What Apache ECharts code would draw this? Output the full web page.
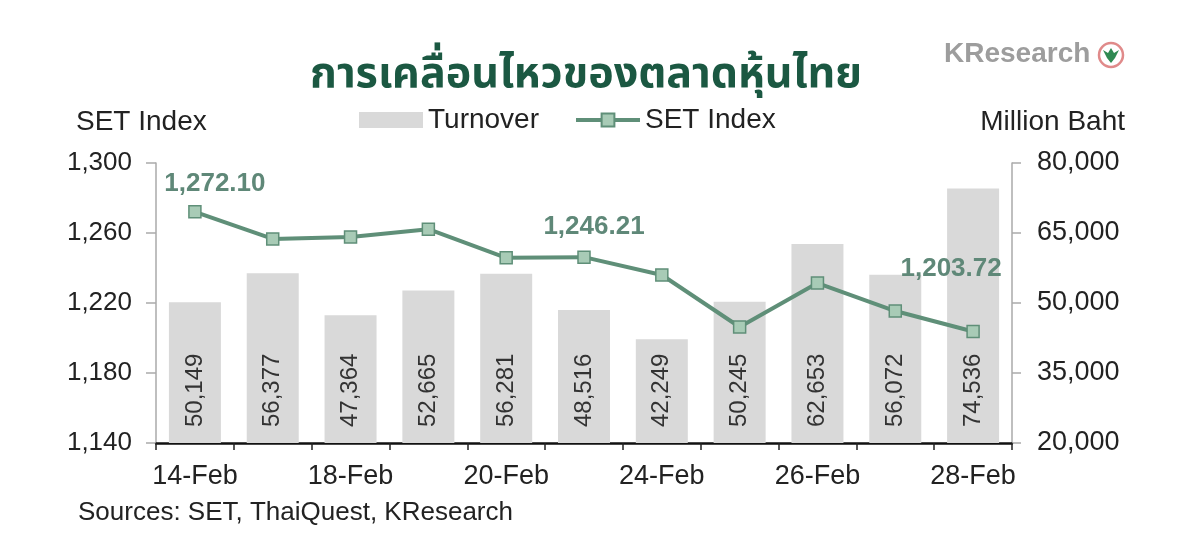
<!DOCTYPE html>
<html>
<head>
<meta charset="utf-8">
<script src="https://cdn.jsdelivr.net/npm/echarts@6/dist/echarts.min.js"></script>
<style>
html,body{margin:0;padding:0;background:#fff;}
#chart{width:1200px;height:548px;}
</style>
</head>
<body>
<div id="chart"></div>
<script>
// ---- data ----
const categories = ['14-Feb','17-Feb','18-Feb','19-Feb','20-Feb','21-Feb','24-Feb','25-Feb','26-Feb','27-Feb','28-Feb'];
const turnover = [50149, 56377, 47364, 52665, 56281, 48516, 42249, 50245, 62653, 56072, 74536];
const setIndex = [1272.10, 1256.6, 1257.7, 1262.2, 1245.8, 1246.21, 1236.0, 1206.3, 1231.4, 1215.4, 1203.72];
const labelledPoints = [0, 5, 10];
const leftTicks = [1140, 1180, 1220, 1260, 1300];
const rightTicks = [20000, 35000, 50000, 65000, 80000];
const titleText = 'การเคลื่อนไหวของตลาดหุ้นไทย';
const sourceText = 'Sources: SET, ThaiQuest, KResearch';

const FONT = '"Liberation Sans", Arial, sans-serif';
const fmt = v => Number(v).toLocaleString('en-US');
const fmt2 = v => Number(v).toLocaleString('en-US', {minimumFractionDigits: 2, maximumFractionDigits: 2});

const labelOffsets = {0: [20, -2], 5: [10, -5], 10: [-22, -37]};
const lineData = setIndex.map((v, i) => {
  if (labelledPoints.indexOf(i) >= 0) {
    return {value: v, label: {show: true, position: 'top', distance: 6, offset: labelOffsets[i],
      formatter: p => fmt2(p.value), fontFamily: FONT, fontSize: 26, fontWeight: 'bold', color: '#5f8878'}};
  }
  return v;
});

const chart = echarts.init(document.getElementById('chart'), null, {renderer: 'canvas'});
chart.setOption({
  backgroundColor: '#ffffff',
  animation: false,
  title: {
    text: titleText,
    left: 581, top: 52, textAlign: 'center',
    textStyle: {fontFamily: '"Noto Sans Thai", "Noto Sans", "DejaVu Sans", sans-serif', fontSize: 43, fontWeight: 'bold', color: '#1b5842'}
  },
  legend: {
    left: 359, top: 106, padding: 0,
    itemWidth: 64, itemHeight: 16, itemGap: 35,
    textStyle: {fontFamily: FONT, fontSize: 28, color: '#222'},
    data: [
      {name: 'Turnover', icon: 'rect'},
      {name: 'SET Index', lineStyle: {width: 4, color: '#5f8f78'}}
    ]
  },
  grid: {left: 156, right: 188, top: 163, bottom: 105, containLabel: false},
  xAxis: {
    type: 'category',
    data: categories,
    boundaryGap: true,
    axisLine: {show: true, lineStyle: {color: '#111', width: 2.5}},
    axisTick: {show: true, interval: 0, length: 7, lineStyle: {color: '#222', width: 1.5}},
    axisLabel: {interval: 1, margin: 20, fontFamily: FONT, fontSize: 27, color: '#222'},
    splitLine: {show: false}
  },
  yAxis: [
    {
      type: 'value', position: 'left', min: leftTicks[0], max: leftTicks[leftTicks.length - 1], interval: 40,
      axisLine: {show: true, lineStyle: {color: '#aaa', width: 1.5}},
      axisTick: {show: true, length: 10, lineStyle: {color: '#aaa', width: 1.5}},
      axisLabel: {margin: 24, fontFamily: FONT, fontSize: 26, color: '#222', formatter: v => fmt(v)},
      splitLine: {show: false}
    },
    {
      type: 'value', position: 'right', min: rightTicks[0], max: rightTicks[rightTicks.length - 1], interval: 15000,
      axisLine: {show: true, lineStyle: {color: '#aaa', width: 1.5}},
      axisTick: {show: true, length: 9, lineStyle: {color: '#aaa', width: 1.5}},
      axisLabel: {margin: 25, fontFamily: FONT, fontSize: 27, color: '#222', formatter: v => fmt(v)},
      splitLine: {show: false}
    }
  ],
  series: [
    {
      name: 'Turnover', type: 'bar', yAxisIndex: 1, data: turnover,
      barWidth: 52,
      itemStyle: {color: '#d9d9d9'},
      label: {show: true, position: 'insideBottom', rotate: 90, align: 'left', verticalAlign: 'middle', distance: 16,
        fontFamily: FONT, fontSize: 24, color: '#333', formatter: p => fmt(p.value)},
      z: 1
    },
    {
      name: 'SET Index', type: 'line', yAxisIndex: 0, data: lineData,
      symbol: 'rect', symbolSize: 12,
      lineStyle: {color: '#5f8f78', width: 4},
      itemStyle: {color: '#a8cbb6', borderColor: '#5f8f78', borderWidth: 1.5},
      label: {show: false},
      z: 3
    }
  ],
  graphic: [
    {type: 'text', left: 76, top: 108, style: {text: 'SET Index', font: '28px ' + FONT, fill: '#222'}},
    {type: 'text', right: 75, top: 108, style: {text: 'Million Baht', font: '28px ' + FONT, fill: '#222'}},
    {type: 'text', left: 78, top: 500, style: {text: sourceText, font: '26px ' + FONT, fill: '#222'}},
    {type: 'text', left: 944, top: 40, style: {text: 'KResearch', font: 'bold 28px ' + FONT, fill: '#9d9d9d'}},
    {type: 'circle', shape: {cx: 1111, cy: 55, r: 12}, style: {fill: '#fff', stroke: '#e08a8a', lineWidth: 2.5}},
    {type: 'polygon', shape: {points: [[1103,50],[1108,53],[1111,48],[1114,53],[1119,50],[1115,58],[1111,63],[1107,58]]}, style: {fill: '#2f8a52'}}
  ]
});
</script>
</body>
</html>
